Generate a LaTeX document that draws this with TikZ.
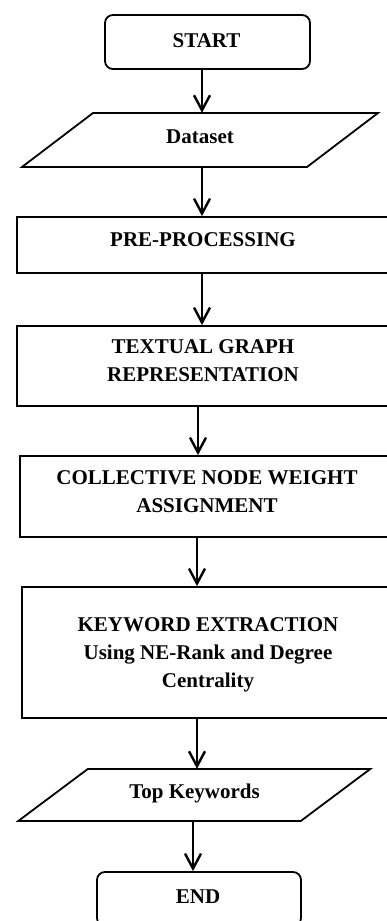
\documentclass[tikz,border=0pt]{standalone}
\usepackage{fontspec}
\setmainfont{Liberation Serif}
\usetikzlibrary{arrows.meta,positioning}
\begin{document}
\begin{tikzpicture}[x=1pt,y=-1pt,
  shapebox/.style={draw=black, line width=1.8pt, inner sep=0pt, fill=white},
  ghost/.style={inner sep=0pt},
  txt/.style={inner sep=0pt, align=center, font=\fontsize{21}{28}\selectfont\bfseries},
  arr/.style={line width=2.4pt, -{Straight Barb[length=15pt,width=16pt,line width=2.4pt]}},
  para/.style={line width=1.8pt, line join=miter}
]
\useasboundingbox (0,0) rectangle (387,921);
\clip (0,0) rectangle (387,921);

% shapes
\node[shapebox, rounded corners=8pt, minimum width=205pt, minimum height=54pt] (start) at (207.5,42) {};
\node[ghost, minimum width=214pt, minimum height=54pt] (ds) at (200,140) {};
\draw[para, shift={(ds.center)}] (-107,-27) -- (178,-27) -- (107,27) -- (-178,27) -- cycle;
\node[shapebox, minimum width=372pt, minimum height=56pt] (pre) at (203,245) {};
\node[shapebox, minimum width=372pt, minimum height=80pt] (tgr) at (203,366) {};
\node[shapebox, minimum width=374pt, minimum height=81pt] (coll) at (207,496.5) {};
\node[shapebox, minimum width=372pt, minimum height=131pt] (key) at (208,652.5) {};
\node[ghost, minimum width=213pt, minimum height=52pt] (top) at (194.25,795) {};
\draw[para, shift={(top.center)}] (-106.5,-26) -- (176,-26) -- (106.5,26) -- (-176,26) -- cycle;
\node[shapebox, rounded corners=8pt, minimum width=204pt, minimum height=54pt] (end) at (199,899) {};

% texts
\node[txt, anchor=base] (startt) at (206.5,47) {START};
\node[txt, anchor=base] (dst) at (200,143) {Dataset};
\node[txt, anchor=base] (pret) at (203,246) {PRE-PROCESSING};
\node[txt] (tgrt) at (203,361) {TEXTUAL GRAPH\\REPRESENTATION};
\node[txt] (collt) at (207,492) {COLLECTIVE NODE WEIGHT\\ASSIGNMENT};
\node[txt] (keyt) at (208,654.5) {KEYWORD EXTRACTION\\Using NE-Rank and Degree\\Centrality};
\node[txt, anchor=base] (topt) at (194.5,798) {Top Keywords};
\node[txt, anchor=base] (endt) at (198,903) {END};

% connectors
\draw[arr] ([xshift=-5.5pt]start.south) -- ([xshift=2pt]ds.north);
\draw[arr] ([xshift=2pt]ds.south) -- ([xshift=-1pt]pre.north);
\draw[arr] ([xshift=-1pt]pre.south) -- ([xshift=-1pt]tgr.north);
\draw[arr] ([xshift=-5pt]tgr.south) -- ([xshift=-9pt]coll.north);
\draw[arr] ([xshift=-10pt]coll.south) -- ([xshift=-11pt]key.north);
\draw[arr] ([xshift=-11pt]key.south) -- ([xshift=2.75pt]top.north);
\draw[arr] ([xshift=-1.25pt]top.south) -- ([xshift=-6pt]end.north);
\end{tikzpicture}
\end{document}
